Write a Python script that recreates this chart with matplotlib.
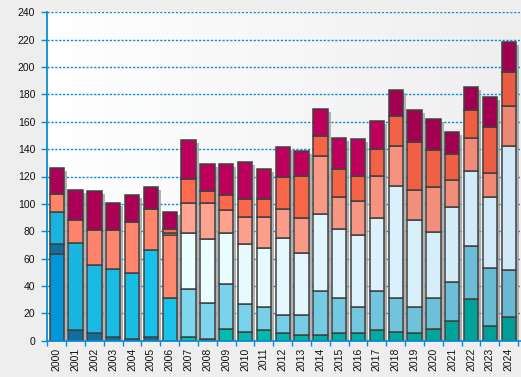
import numpy as np
import matplotlib
matplotlib.use("Agg")
import matplotlib.pyplot as plt
import matplotlib.transforms as mtransforms

years = [str(y) for y in range(2000, 2025)]

# stacked series, bottom to top
s_blue      = [63, 0, 0, 0, 0, 0, 0, 0, 0, 0, 0, 0, 0, 0, 0, 0, 0, 0, 0, 0, 0, 0, 0, 0, 0]
s_darkblue  = [8, 7.5, 5.5, 3, 1, 2.4, 0, 0, 0, 0, 0, 0, 0, 0, 0, 0, 0, 0, 0, 0, 0, 0, 0, 0, 0]
s_teal      = [0, 0, 0, 0, 0, 0, 0, 2.5, 1.2, 8.4, 6.1, 7.6, 5.4, 4, 4, 5.4, 5.4, 7.6, 6.1, 5.4, 8.3, 14.5, 30.3, 10.5, 17.1]
s_cyan      = [23, 63.7, 49.6, 49.2, 48.3, 63.7, 31, 0, 0, 0, 0, 0, 0, 0, 0, 0, 0, 0, 0, 0, 0, 0, 0, 0, 0]
s_lightblue = [0, 0, 0, 0, 0, 0, 0, 35.1, 26.2, 32.9, 20.5, 16.8, 13.2, 14.6, 32.2, 25.6, 19, 28.6, 24.9, 19, 22.7, 28.3, 38.8, 42.5, 34.7]
s_white     = [0, 0, 0, 0, 0, 0, 0, 41, 46.8, 37.3, 44, 43.2, 56.4, 45.4, 56.3, 50.5, 52.8, 53.4, 82, 63.7, 48.6, 54.8, 54.9, 52, 90.5]
s_coral     = [13, 16.8, 26.1, 29, 37.3, 29.8, 46, 0, 0, 0, 0, 0, 0, 0, 0, 0, 0, 0, 0, 0, 0, 0, 0, 0, 0]
s_salmon    = [0, 0, 0, 0, 0, 0, 1.5, 22, 26.4, 16.8, 19.7, 22.7, 21.2, 25.6, 42.5, 23.5, 24.8, 30.7, 29.3, 21.9, 32.7, 19.8, 24.2, 17.6, 29.3]
s_orange    = [0, 0, 0, 0, 0, 0, 3, 17.5, 8.8, 11, 13.2, 13.2, 23.4, 30.7, 14.6, 20.5, 18.3, 19.8, 22, 35.2, 27.1, 19, 20.5, 33.7, 24.9]
s_crimson   = [19, 22, 28.1, 19.3, 19.7, 16.3, 12.5, 28.6, 19.7, 22.7, 27, 21.9, 22, 18.3, 19.8, 22.7, 27.1, 20.5, 18.7, 23.5, 22.6, 16.1, 16.9, 22, 21.9]

y_ticks = list(range(0, 241, 20))

n = len(years)
x = np.arange(n)

def grad(c0, c1, i0=0, i1=n - 1):
    out = []
    for i in range(n):
        t = min(max((i - i0) / max(i1 - i0, 1), 0), 1)
        out.append(tuple((a + (b - a) * t) / 255 for a, b in zip(c0, c1)))
    return out

salmon_cols = grad((255, 165, 145), (238, 135, 115), 7, 24)
salmon_cols[6] = (1.0, 0.93, 0.90)

series = [
    (s_blue,      grad((0, 152, 218), (0, 152, 218))),
    (s_darkblue,  grad((18, 110, 160), (15, 100, 150))),
    (s_teal,      grad((0, 192, 178), (0, 158, 150), 7, 24)),
    (s_cyan,      grad((25, 180, 222), (25, 195, 236), 0, 6)),
    (s_lightblue, grad((125, 215, 238), (105, 185, 210), 7, 24)),
    (s_white,     grad((236, 255, 255), (208, 232, 248), 7, 24)),
    (s_coral,     grad((255, 130, 105), (255, 135, 110), 0, 6)),
    (s_salmon,    salmon_cols),
    (s_orange,    grad((255, 108, 78), (236, 92, 66), 6, 24)),
    (s_crimson,   grad((175, 0, 88), (160, 0, 80), 0, 24)),
]
# crimson brighter in the middle
for i in range(7, 18):
    series[-1][1][i] = (190 / 255, 0, 92 / 255)

W, H = 521, 377
fig = plt.figure(figsize=(W / 100, H / 100), dpi=100)
fig.patch.set_facecolor("#eeeeee")
ax = fig.add_axes([47.3 / W, 1 - 340.7 / H, (520 - 47.3) / W, (340.7 - 12.3) / H])
ax.set_facecolor("white")

# background gradient
g = np.linspace(1.0, 0.935, 256).reshape(1, -1)
ax.imshow(np.dstack([g, g, g]), extent=[0, 1, 0, 1], transform=ax.transAxes,
          aspect="auto", zorder=0, interpolation="bilinear")

blue = "#0a8cd2"
for yv in y_ticks[1:]:
    ax.axhline(yv, color=blue, lw=1.0, linestyle=(0, (1.6, 1.2)), zorder=1)

width = 0.76
totals = np.sum([np.array(s) for s, _ in series], axis=0)
shadow_tr = mtransforms.offset_copy(ax.transData, fig=fig, x=3, y=-3, units="dots")
ax.bar(x, totals, width=width, color="#9a9a9a", alpha=0.75, linewidth=0,
       transform=shadow_tr, zorder=2)

bottom = np.zeros(n)
for vals, cols in series:
    v = np.array(vals, dtype=float)
    m = v > 0
    ax.bar(x[m], v[m], width=width, bottom=bottom[m], color=[cols[i] for i in np.where(m)[0]],
           edgecolor="#404040", linewidth=1.1, zorder=3)
    bottom += v

ax.set_xlim(-0.5, 24.6)
ax.set_ylim(0, 240)

for side in ["top", "right"]:
    ax.spines[side].set_visible(False)
for side in ["left", "bottom"]:
    ax.spines[side].set_color(blue)
    ax.spines[side].set_linewidth(1.3)
    ax.spines[side].set_zorder(4)

ax.set_yticks(y_ticks)
ax.set_yticklabels([str(v) for v in y_ticks], fontsize=7.5, family="Liberation Sans", color="#111111")
ax.tick_params(axis="y", length=4.2, width=1.0, color=blue, pad=4.5)

ax.set_xticks(x)
ax.set_xticklabels(years, rotation=90, fontsize=7.5, family="Liberation Sans", color="#111111")
ax.tick_params(axis="x", which="major", length=0, pad=5)
ax.set_xticks(np.arange(-0.5, 24.6, 1.0), minor=True)
ax.tick_params(axis="x", which="minor", length=3.5, width=1.0, color=blue)

fig.savefig("out.png", dpi=100, facecolor=fig.get_facecolor())
